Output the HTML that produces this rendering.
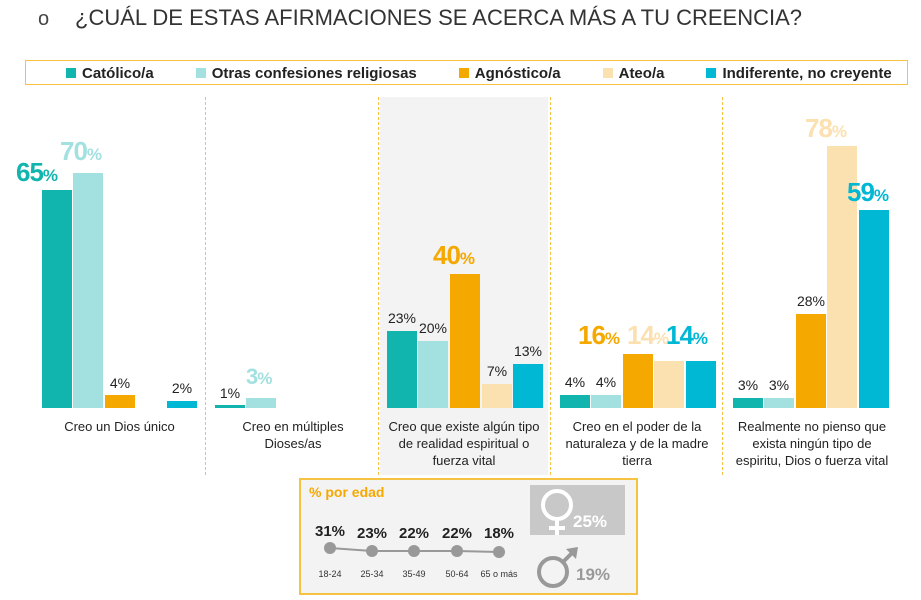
<!DOCTYPE html><html><head><meta charset="utf-8"><style>
body{margin:0;width:921px;height:600px;background:#fff;position:relative;overflow:hidden;font-family:"Liberation Sans",sans-serif;color:#222}
.a{position:absolute}
.b{position:absolute;width:30px}
.s{position:absolute;font-size:14px;width:40px;text-align:center;color:#222}
.L{position:absolute;font-weight:bold;font-size:26px;letter-spacing:-1px}
.L small{font-size:17px}
.d{position:absolute;top:97px;height:378px;border-left:1px dashed #f5c242}
.c{position:absolute;top:418px;font-size:13px;text-align:center;line-height:17px;color:#222}
.lg{display:inline-block;margin-right:42px}
.lg i{display:inline-block;width:10px;height:10px;margin-right:6px}
</style></head><body>
<div class="a" style="left:38px;top:8px;font-size:20px;color:#444">o</div>
<div class="a" style="left:75px;top:5px;font-size:22px;color:#333">¿CUÁL DE ESTAS AFIRMACIONES SE ACERCA MÁS A TU CREENCIA?</div>
<div class="a" style="left:25px;top:60px;width:883px;height:25px;border:1px solid #f5c242;font-size:15px;font-weight:bold;line-height:25px;padding-left:40px;box-sizing:border-box">
<span class="lg"><i style="background:#12b5ad"></i>Católico/a</span><span class="lg"><i style="background:#a3e0e0"></i>Otras confesiones religiosas</span><span class="lg"><i style="background:#f5a800"></i>Agnóstico/a</span><span class="lg"><i style="background:#fbe0b0"></i>Ateo/a</span><span class="lg" style="margin:0"><i style="background:#00b7d4"></i>Indiferente, no creyente</span></div>
<div class="a" style="left:380px;top:97px;width:168px;height:378px;background:#f3f3f3"></div>
<div class="d" style="left:205px"></div><div class="d" style="left:378px"></div><div class="d" style="left:550px"></div><div class="d" style="left:722px"></div>
<!-- g1 -->
<div class="b" style="left:42px;top:190px;height:218px;background:#12b5ad"></div>
<div class="b" style="left:73px;top:173px;height:235px;background:#a3e0e0"></div>
<div class="b" style="left:105px;top:395px;height:13px;background:#f5a800"></div>
<div class="b" style="left:167px;top:401px;height:7px;background:#00b7d4"></div>
<div class="L" style="left:16px;top:157px;color:#12b5ad">65<small>%</small></div>
<div class="L" style="left:60px;top:136px;color:#a3e0e0">70<small>%</small></div>
<div class="s" style="left:100px;top:375px">4%</div><div class="s" style="left:162px;top:380px">2%</div>
<!-- g2 -->
<div class="b" style="left:215px;top:405px;height:3px;background:#12b5ad"></div>
<div class="b" style="left:246px;top:398px;height:10px;background:#a3e0e0"></div>
<div class="s" style="left:210px;top:385px">1%</div>
<div class="L" style="left:246px;top:364px;color:#a3e0e0;font-size:22px">3<small>%</small></div>
<!-- g3 -->
<div class="b" style="left:387px;top:331px;height:77px;background:#12b5ad"></div>
<div class="b" style="left:418px;top:341px;height:67px;background:#a3e0e0"></div>
<div class="b" style="left:450px;top:274px;height:134px;background:#f5a800"></div>
<div class="b" style="left:482px;top:384px;height:24px;background:#fbe0b0"></div>
<div class="b" style="left:513px;top:364px;height:44px;background:#00b7d4"></div>
<div class="s" style="left:382px;top:310px">23%</div><div class="s" style="left:413px;top:320px">20%</div>
<div class="L" style="left:433px;top:240px;color:#f5a800">40<small>%</small></div>
<div class="s" style="left:477px;top:363px">7%</div><div class="s" style="left:508px;top:343px">13%</div>
<!-- g4 -->
<div class="b" style="left:560px;top:395px;height:13px;background:#12b5ad"></div>
<div class="b" style="left:591px;top:395px;height:13px;background:#a3e0e0"></div>
<div class="b" style="left:623px;top:354px;height:54px;background:#f5a800"></div>
<div class="b" style="left:654px;top:361px;height:47px;background:#fbe0b0"></div>
<div class="b" style="left:686px;top:361px;height:47px;background:#00b7d4"></div>
<div class="s" style="left:555px;top:374px">4%</div><div class="s" style="left:586px;top:374px">4%</div>
<div class="L" style="left:578px;top:320px;color:#f5a800">16<small>%</small></div>
<div class="L" style="left:627px;top:320px;color:#fbe0b0">14<small>%</small></div>
<div class="L" style="left:666px;top:320px;color:#00b7d4">14<small>%</small></div>
<!-- g5 -->
<div class="b" style="left:733px;top:398px;height:10px;background:#12b5ad"></div>
<div class="b" style="left:764px;top:398px;height:10px;background:#a3e0e0"></div>
<div class="b" style="left:796px;top:314px;height:94px;background:#f5a800"></div>
<div class="b" style="left:827px;top:146px;height:262px;background:#fbe0b0"></div>
<div class="b" style="left:859px;top:210px;height:198px;background:#00b7d4"></div>
<div class="s" style="left:728px;top:377px">3%</div><div class="s" style="left:759px;top:377px">3%</div>
<div class="s" style="left:791px;top:293px">28%</div>
<div class="L" style="left:805px;top:113px;color:#fbe0b0">78<small>%</small></div>
<div class="L" style="left:847px;top:177px;color:#00b7d4">59<small>%</small></div>
<!-- cats -->
<div class="c" style="left:42px;width:155px">Creo un Dios único</div>
<div class="c" style="left:212px;width:162px">Creo en múltiples<br>Dioses/as</div>
<div class="c" style="left:382px;width:164px">Creo que existe algún tipo<br>de realidad espiritual o<br>fuerza vital</div>
<div class="c" style="left:555px;width:164px">Creo en el poder de la<br>naturaleza y de la madre<br>tierra</div>
<div class="c" style="left:727px;width:170px">Realmente no pienso que<br>exista ningún tipo de<br>espiritu, Dios o fuerza vital</div>
<!-- bottom box -->
<div class="a" style="left:299px;top:478px;width:339px;height:117px;background:#f3f3f3;border:2px solid #f5c242;box-sizing:border-box"></div>
<div class="a" style="left:309px;top:484px;font-size:14px;font-weight:bold;color:#f5a800">% por edad</div>
<div class="a" style="left:530px;top:485px;width:95px;height:50px;background:#c8c8c8"></div>
<svg class="a" style="left:0;top:0" width="921" height="600">
<polyline points="330,548 372,551 414,551 457,551 499,552" fill="none" stroke="#999" stroke-width="2"/>
<g fill="#999"><circle cx="330" cy="548" r="6"/><circle cx="372" cy="551" r="6"/><circle cx="414" cy="551" r="6"/><circle cx="457" cy="551" r="6"/><circle cx="499" cy="552" r="6"/></g>
<circle cx="557" cy="505" r="14" fill="none" stroke="#fff" stroke-width="4"/>
<line x1="557" y1="519" x2="557" y2="535" stroke="#fff" stroke-width="4"/><line x1="549" y1="528" x2="565" y2="528" stroke="#fff" stroke-width="4"/>
<circle cx="553" cy="572" r="14" fill="none" stroke="#999" stroke-width="4"/>
<line x1="563" y1="562" x2="574" y2="551" stroke="#999" stroke-width="4"/><polygon points="566,549 578,547 576,559" fill="#999"/>
<g font-family="Liberation Sans" font-weight="bold" font-size="15" fill="#222" text-anchor="middle">
<text x="330" y="536">31%</text><text x="372" y="538">23%</text><text x="414" y="538">22%</text><text x="457" y="538">22%</text><text x="499" y="538">18%</text></g>
<g font-family="Liberation Sans" font-size="9" fill="#333" text-anchor="middle">
<text x="330" y="577">18-24</text><text x="372" y="577">25-34</text><text x="414" y="577">35-49</text><text x="457" y="577">50-64</text><text x="499" y="577">65 o más</text></g>
<text x="573" y="527" font-family="Liberation Sans" font-weight="bold" font-size="17" fill="#fff">25%</text>
<text x="576" y="580" font-family="Liberation Sans" font-weight="bold" font-size="17" fill="#999">19%</text>
</svg>
</body></html>
